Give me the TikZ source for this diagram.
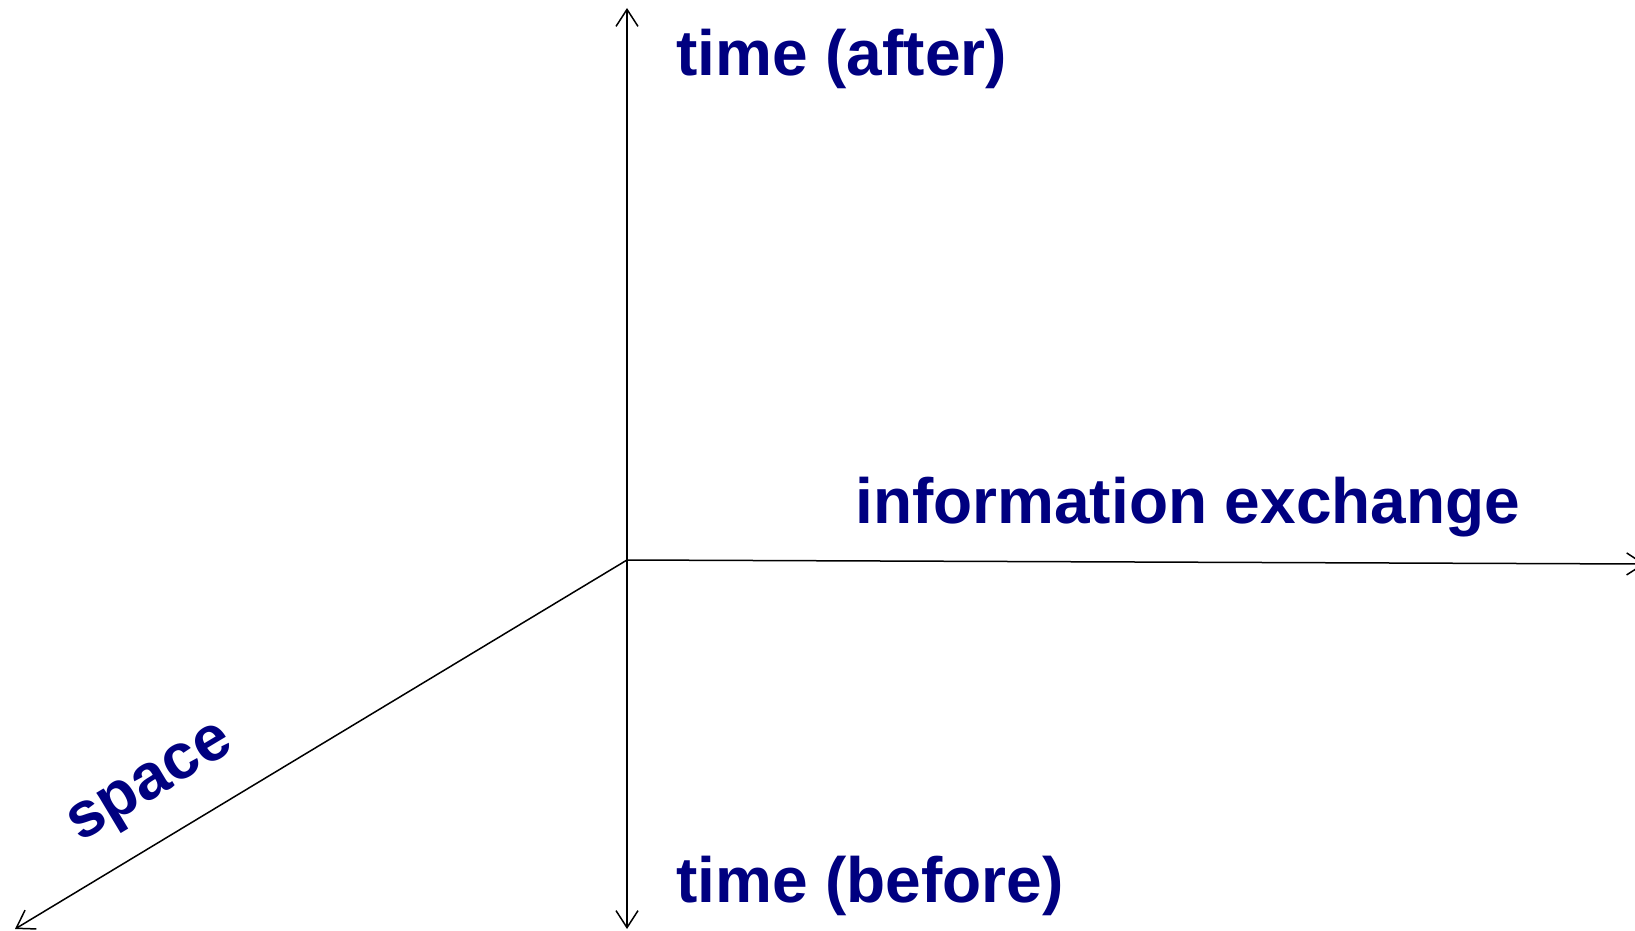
\documentclass[tikz,border=0pt]{standalone}
\usepackage{fontspec}
\setmainfont{Liberation Sans}
\usetikzlibrary{arrows.meta}
\definecolor{axislabel}{RGB}{0,0,128}

\begin{document}
\begin{tikzpicture}[x=1pt, y=-1pt, >={Straight Barb[length=17pt, width=22pt]}]
    \tikzstyle{every node}=[inner sep=0pt, text=axislabel, font=\fontsize{64}{72}\selectfont\bfseries]
    \useasboundingbox (0,0) rectangle (1635,931);
    \coordinate (origin) at (627, 560);
    \coordinate (after) at (627, 8);
    \coordinate (before) at (627, 929);
    \coordinate (exchange) at (1645, 564);
    \coordinate (spaceend) at (15, 929);
    \draw[->, line width=1.5pt] (origin) -- (after);
    \draw[->, line width=1.5pt] (origin) -- (before);
    \draw[->, line width=1.5pt] (origin) -- (exchange);
    \draw[->, line width=1.5pt] (origin) -- (spaceend);
    \node[anchor=base west] (tafter) at (676, 76) {time (after)};
    \node[anchor=base west] (tbefore) at (676, 902) {time (before)};
    \node[anchor=base west] (info) at (855, 523) {information exchange};
    \node[rotate=31, anchor=base] (space) at (158, 796) {space};
\end{tikzpicture}
\end{document}
